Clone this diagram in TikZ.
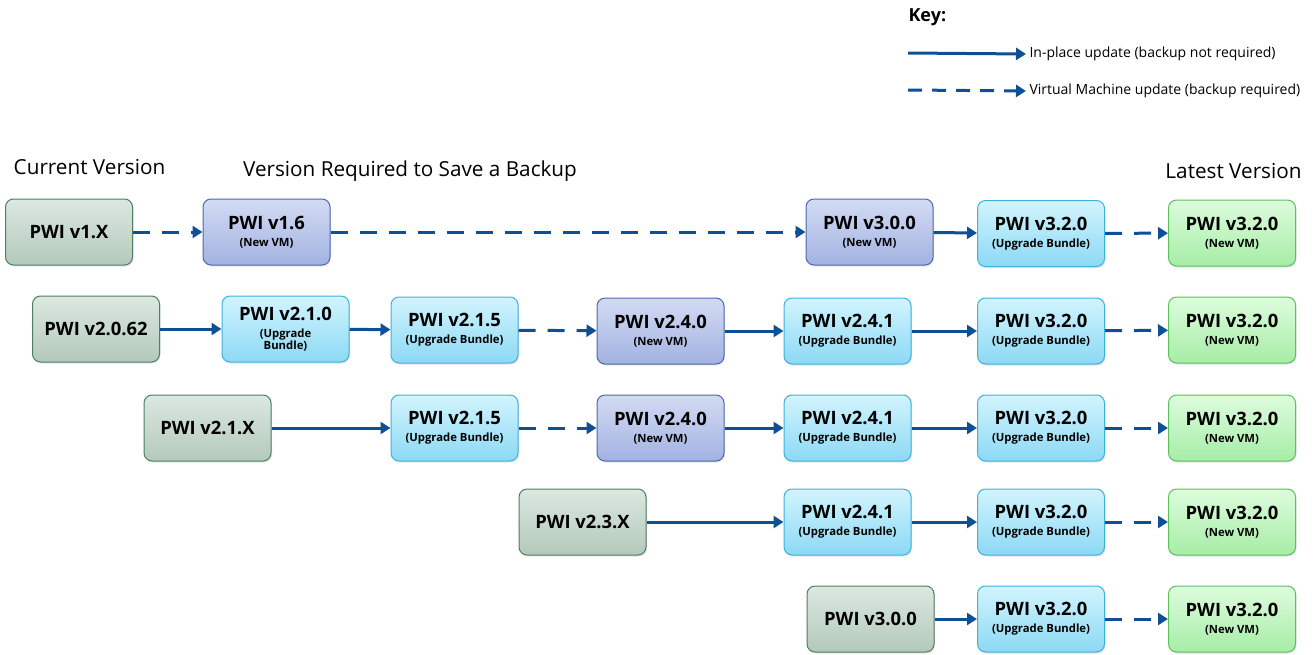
\documentclass[tikz,border=0pt]{standalone}
\usepackage{fontspec}
\setmainfont{Open Sans}
\usetikzlibrary{arrows.meta,shadows}
\definecolor{arr}{HTML}{0E4F95}
\definecolor{gTop}{HTML}{DCE8E0}\definecolor{gBot}{HTML}{B3C9BB}\definecolor{gBrd}{HTML}{4E7E66}
\definecolor{pTop}{HTML}{D3DBF3}\definecolor{pBot}{HTML}{A2B2E2}\definecolor{pBrd}{HTML}{4C69AE}
\definecolor{cTop}{HTML}{D2F4FE}\definecolor{cBot}{HTML}{8CD9F4}\definecolor{cBrd}{HTML}{3DB2DF}
\definecolor{nTop}{HTML}{DDFCDD}\definecolor{nBot}{HTML}{A6EDA6}\definecolor{nBrd}{HTML}{5DBF5D}
\newcommand\subf{\bfseries\fontsize{11.3}{13.5}\selectfont}
\newcommand\bt[2]{\bfseries\fontsize{18.4}{20}\selectfont #1\\[5pt]\subf #2}
\newcommand\bo[1]{\bfseries\fontsize{18.4}{20}\selectfont #1}
\tikzset{
  box/.style={rounded corners=8pt, minimum width=127pt, minimum height=66pt, align=center, line width=1pt,
    inner sep=2pt, drop shadow={opacity=0.2, shadow xshift=1pt, shadow yshift=-1.5pt}},
  cur/.style={box, draw=gBrd, top color=gTop, bottom color=gBot},
  vm/.style={box, draw=pBrd, top color=pTop, bottom color=pBot},
  ub/.style={box, draw=cBrd, top color=cTop, bottom color=cBot},
  lat/.style={box, draw=nBrd, top color=nTop, bottom color=nBot},
  solidarr/.style={draw=arr, line width=3pt, -{Triangle[length=10pt,width=12pt]}},
  dasharr/.style={solidarr, dash pattern=on 17pt off 12pt},
  hdr/.style={font=\fontsize{20.7}{23}\selectfont, anchor=base},
  keytxt/.style={font=\fontsize{14}{16}\selectfont, anchor=west}
}
\begin{document}
\begin{tikzpicture}[x=1pt,y=-1pt]
\useasboundingbox (0,0) rectangle (1315,654);
% headers
\node[hdr] (h1) at (89.5,174) {Current Version};
\node[hdr] (h2) at (410,176) {Version Required to Save a Backup};
\node[hdr] (h3) at (1233.5,178) {Latest Version};
% key
\node[anchor=west, font=\bfseries\fontsize{18}{20}\selectfont] (key) at (905,17) {Key:};
\coordinate (k1s) at (908,53);
\node[keytxt] (k1) at (1026,54) {In-place update (backup not required)};
\coordinate (k2s) at (908,90);
\node[keytxt] (k2) at (1026,91) {Virtual Machine update (backup required)};
\draw[solidarr] (k1s) -- (k1.west);
\draw[dasharr, dash pattern=on 14pt off 10pt] (k2s) -- (k2.west);
% row 1
\node[cur] (a1) at (69,232) {\bo{PWI v1.X}};
\node[vm]  (a2) at (266.5,232) {\bt{PWI v1.6}{(New VM)}};
\node[vm]  (a3) at (869.5,232) {\bt{PWI v3.0.0}{(New VM)}};
\node[ub]  (a4) at (1041,233.5) {\bt{PWI v3.2.0}{(Upgrade Bundle)}};
\node[lat] (a5) at (1232,233) {\bt{PWI v3.2.0}{(New VM)}};
% row 2
\node[cur] (b1) at (96,329) {\bo{PWI v2.0.62}};
\node[ub]  (b2) at (285.5,329) {\bt{PWI v2.1.0}{(Upgrade\\[0pt]\subf Bundle)}};
\node[ub]  (b3) at (454.5,330) {\bt{PWI v2.1.5}{(Upgrade Bundle)}};
\node[vm]  (b4) at (660.5,331) {\bt{PWI v2.4.0}{(New VM)}};
\node[ub]  (b5) at (847.5,331) {\bt{PWI v2.4.1}{(Upgrade Bundle)}};
\node[ub]  (b6) at (1041,331) {\bt{PWI v3.2.0}{(Upgrade Bundle)}};
\node[lat] (b7) at (1232,330) {\bt{PWI v3.2.0}{(New VM)}};
% row 3
\node[cur] (c1) at (207.5,428) {\bo{PWI v2.1.X}};
\node[ub]  (c2) at (454.5,428) {\bt{PWI v2.1.5}{(Upgrade Bundle)}};
\node[vm]  (c3) at (660.5,428) {\bt{PWI v2.4.0}{(New VM)}};
\node[ub]  (c4) at (847.5,428) {\bt{PWI v2.4.1}{(Upgrade Bundle)}};
\node[ub]  (c5) at (1041,428) {\bt{PWI v3.2.0}{(Upgrade Bundle)}};
\node[lat] (c6) at (1232,428) {\bt{PWI v3.2.0}{(New VM)}};
% row 4
\node[cur] (d1) at (582.5,522) {\bo{PWI v2.3.X}};
\node[ub]  (d2) at (847.5,522) {\bt{PWI v2.4.1}{(Upgrade Bundle)}};
\node[ub]  (d3) at (1041,522) {\bt{PWI v3.2.0}{(Upgrade Bundle)}};
\node[lat] (d4) at (1232,522) {\bt{PWI v3.2.0}{(New VM)}};
% row 5
\node[cur] (e1) at (870.5,619) {\bo{PWI v3.0.0}};
\node[ub]  (e2) at (1041,619) {\bt{PWI v3.2.0}{(Upgrade Bundle)}};
\node[lat] (e3) at (1232,619) {\bt{PWI v3.2.0}{(New VM)}};
% arrows
\draw[dasharr] (a1) -- (a2);
\draw[dasharr] (a2) -- (a3);
\draw[solidarr] (a3) -- (a4);
\draw[dasharr] (a4) -- (a5);
\draw[solidarr] (b1) -- (b2);
\draw[solidarr] (b2) -- (b3);
\draw[dasharr] (b3) -- (b4);
\draw[solidarr] (b4) -- (b5);
\draw[solidarr] (b5) -- (b6);
\draw[dasharr] (b6) -- (b7);
\draw[solidarr] (c1) -- (c2);
\draw[dasharr] (c2) -- (c3);
\draw[solidarr] (c3) -- (c4);
\draw[solidarr] (c4) -- (c5);
\draw[dasharr] (c5) -- (c6);
\draw[solidarr] (d1) -- (d2);
\draw[solidarr] (d2) -- (d3);
\draw[dasharr] (d3) -- (d4);
\draw[solidarr] (e1) -- (e2);
\draw[dasharr] (e2) -- (e3);
\end{tikzpicture}
\end{document}
